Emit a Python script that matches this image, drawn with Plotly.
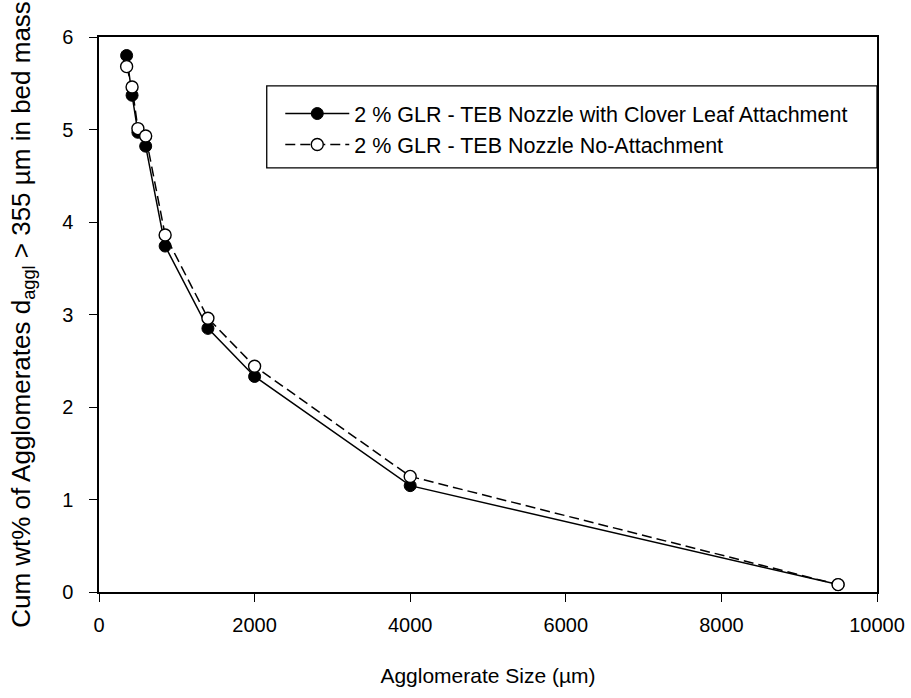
import plotly.graph_objects as go

# Agglomerate sieve sizes (µm)
agglomerate_size = [355, 425, 500, 600, 850, 1400, 2000, 4000, 9500]

# Cumulative wt% of agglomerates in bed mass
clover_leaf = [5.80, 5.37, 4.97, 4.82, 3.74, 2.85, 2.33, 1.15, 0.08]
no_attachment = [5.68, 5.46, 5.01, 4.93, 3.86, 2.96, 2.44, 1.25, 0.08]

series_names = [
    "2 % GLR - TEB Nozzle with Clover Leaf Attachment",
    "2 % GLR - TEB Nozzle No-Attachment",
]

x_ticks = [0, 2000, 4000, 6000, 8000, 10000]
y_ticks = [0, 1, 2, 3, 4, 5, 6]

FONT = "Liberation Sans, Arial, Helvetica, sans-serif"

fig = go.Figure()

fig.add_trace(go.Scatter(
    x=agglomerate_size, y=clover_leaf, name=series_names[0],
    mode="lines+markers",
    line=dict(color="black", width=1.5),
    marker=dict(symbol="circle", size=12, color="black",
                line=dict(color="black", width=1)),
))

fig.add_trace(go.Scatter(
    x=agglomerate_size, y=no_attachment, name=series_names[1],
    mode="lines+markers",
    line=dict(color="black", width=1.5, dash="10px,5px"),
    marker=dict(symbol="circle", size=12, color="white",
                line=dict(color="black", width=1.4)),
))

axis_common = dict(
    showline=True, linecolor="black", linewidth=1.5, mirror=True,
    ticks="outside", ticklen=8, tickwidth=1.3, tickcolor="black",
    showgrid=False, zeroline=False, automargin=False,
    tickfont=dict(family=FONT, size=20, color="black"),
)

fig.update_xaxes(
    range=[0, 10000], tickvals=x_ticks, ticktext=[str(v) for v in x_ticks],
    ticklabelstandoff=6,
    title=dict(text="Agglomerate Size (µm)", standoff=34,
               font=dict(family=FONT, size=21, color="black")),
    **axis_common,
)

fig.update_yaxes(
    range=[0, 6], tickvals=y_ticks, ticktext=[str(v) for v in y_ticks],
    ticklabelstandoff=12,
    title=dict(text="Cum wt% of Agglomerates d<sub>aggl</sub> > 355 µm in bed mass",
               standoff=24,
               font=dict(family=FONT, size=26, color="black")),
    **axis_common,
)

# Legend frame
fig.add_shape(
    type="rect", xref="paper", yref="paper",
    x0=0.2156, x1=1.0, y0=0.7643, y1=0.9118,
    line=dict(color="black", width=1.3), fillcolor="rgba(0,0,0,0)",
)

fig.update_layout(
    width=911, height=698,
    margin=dict(l=99, r=34, t=37, b=106, autoexpand=False),
    paper_bgcolor="white", plot_bgcolor="white",
    font=dict(family=FONT, color="black"),
    showlegend=True,
    legend=dict(
        x=0.233, y=0.899, xanchor="left", yanchor="top",
        bgcolor="rgba(0,0,0,0)", borderwidth=0,
        font=dict(family=FONT, size=21.5, color="black"),
        itemwidth=64, tracegroupgap=0,
    ),
)

fig.write_html("out.html")
